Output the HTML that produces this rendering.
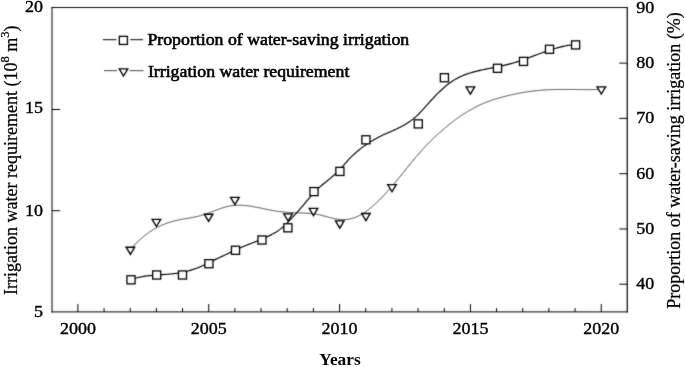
<!DOCTYPE html>
<html><head><meta charset="utf-8"><style>
html,body{margin:0;padding:0;background:#fff;}
body{width:685px;height:367px;overflow:hidden;}
svg{display:block;will-change:transform;}
text{font-family:"Liberation Serif",serif;fill:#000;}
</style></head><body>
<svg width="685" height="367" viewBox="0 0 685 367">
<defs><filter id="bl" filterUnits="userSpaceOnUse" x="0" y="0" width="685" height="367" color-interpolation-filters="sRGB"><feConvolveMatrix order="3" kernelMatrix="0.0169 0.0962 0.0169 0.0962 0.5476 0.0962 0.0169 0.0962 0.0169" edgeMode="duplicate"/></filter></defs>
<g filter="url(#bl)">
<rect width="685" height="367" fill="#fff"/>
<line x1="52.0" y1="7" x2="52.0" y2="312.4" stroke="#000" stroke-width="1.0"/>
<line x1="51.5" y1="7.5" x2="627.7" y2="7.5" stroke="#000" stroke-width="0.97"/>
<line x1="627.25" y1="7" x2="627.25" y2="312.4" stroke="#000" stroke-width="1.2"/>
<line x1="51.5" y1="311.9" x2="627.7" y2="311.9" stroke="#000" stroke-width="1.0"/>
<line x1="77.88" y1="311.9" x2="77.88" y2="304" stroke="#000" stroke-width="1.0"/>
<line x1="104.05" y1="311.9" x2="104.05" y2="308" stroke="#000" stroke-width="1.0"/>
<line x1="130.22" y1="311.9" x2="130.22" y2="308" stroke="#000" stroke-width="1.0"/>
<line x1="156.39" y1="311.9" x2="156.39" y2="308" stroke="#000" stroke-width="1.0"/>
<line x1="182.56" y1="311.9" x2="182.56" y2="308" stroke="#000" stroke-width="1.0"/>
<line x1="208.72" y1="311.9" x2="208.72" y2="304" stroke="#000" stroke-width="1.0"/>
<line x1="234.89" y1="311.9" x2="234.89" y2="308" stroke="#000" stroke-width="1.0"/>
<line x1="261.06" y1="311.9" x2="261.06" y2="308" stroke="#000" stroke-width="1.0"/>
<line x1="287.23" y1="311.9" x2="287.23" y2="308" stroke="#000" stroke-width="1.0"/>
<line x1="313.40" y1="311.9" x2="313.40" y2="308" stroke="#000" stroke-width="1.0"/>
<line x1="339.57" y1="311.9" x2="339.57" y2="304" stroke="#000" stroke-width="1.0"/>
<line x1="365.74" y1="311.9" x2="365.74" y2="308" stroke="#000" stroke-width="1.0"/>
<line x1="391.91" y1="311.9" x2="391.91" y2="308" stroke="#000" stroke-width="1.0"/>
<line x1="418.08" y1="311.9" x2="418.08" y2="308" stroke="#000" stroke-width="1.0"/>
<line x1="444.25" y1="311.9" x2="444.25" y2="308" stroke="#000" stroke-width="1.0"/>
<line x1="470.42" y1="311.9" x2="470.42" y2="304" stroke="#000" stroke-width="1.0"/>
<line x1="496.58" y1="311.9" x2="496.58" y2="308" stroke="#000" stroke-width="1.0"/>
<line x1="522.75" y1="311.9" x2="522.75" y2="308" stroke="#000" stroke-width="1.0"/>
<line x1="548.92" y1="311.9" x2="548.92" y2="308" stroke="#000" stroke-width="1.0"/>
<line x1="575.09" y1="311.9" x2="575.09" y2="308" stroke="#000" stroke-width="1.0"/>
<line x1="601.26" y1="311.9" x2="601.26" y2="304" stroke="#000" stroke-width="1.0"/>
<line x1="52" y1="210.70" x2="60.2" y2="210.70" stroke="#000" stroke-width="1.0"/>
<line x1="52" y1="109.50" x2="60.2" y2="109.50" stroke="#000" stroke-width="1.0"/>
<line x1="627.2" y1="284.23" x2="619.3" y2="284.23" stroke="#000" stroke-width="1.0"/>
<line x1="627.2" y1="228.96" x2="619.3" y2="228.96" stroke="#000" stroke-width="1.0"/>
<line x1="627.2" y1="173.69" x2="619.3" y2="173.69" stroke="#000" stroke-width="1.0"/>
<line x1="627.2" y1="118.42" x2="619.3" y2="118.42" stroke="#000" stroke-width="1.0"/>
<line x1="627.2" y1="63.15" x2="619.3" y2="63.15" stroke="#000" stroke-width="1.0"/>
<path d="M130.40 249.65 L131.40 248.48 L132.40 247.33 L133.40 246.22 L134.40 245.14 L135.40 244.08 L136.40 243.06 L137.40 242.06 L138.40 241.09 L139.40 240.15 L140.40 239.23 L141.40 238.34 L142.40 237.48 L143.40 236.64 L144.40 235.83 L145.40 235.04 L146.40 234.28 L147.40 233.54 L148.40 232.82 L149.40 232.13 L150.40 231.45 L151.40 230.80 L152.40 230.18 L153.40 229.57 L154.40 228.98 L155.40 228.42 L156.40 227.87 L157.40 227.35 L158.40 226.84 L159.40 226.35 L160.40 225.88 L161.40 225.43 L162.40 224.99 L163.40 224.57 L164.40 224.17 L165.40 223.78 L166.40 223.41 L167.40 223.06 L168.40 222.72 L169.40 222.39 L170.40 222.08 L171.40 221.78 L172.40 221.49 L173.40 221.22 L174.40 220.95 L175.40 220.70 L176.40 220.46 L177.40 220.23 L178.40 220.02 L179.40 219.81 L180.40 219.61 L181.40 219.41 L182.40 219.23 L183.40 219.04 L184.40 218.87 L185.40 218.69 L186.40 218.52 L187.40 218.34 L188.40 218.17 L189.40 218.00 L190.40 217.82 L191.40 217.64 L192.40 217.45 L193.40 217.26 L194.40 217.06 L195.40 216.86 L196.40 216.64 L197.40 216.42 L198.40 216.18 L199.40 215.93 L200.40 215.67 L201.40 215.39 L202.40 215.10 L203.40 214.79 L204.40 214.47 L205.40 214.13 L206.40 213.79 L207.40 213.43 L208.40 213.07 L209.40 212.70 L210.40 212.33 L211.40 211.95 L212.40 211.57 L213.40 211.19 L214.40 210.80 L215.40 210.42 L216.40 210.05 L217.40 209.68 L218.40 209.31 L219.40 208.95 L220.40 208.60 L221.40 208.26 L222.40 207.94 L223.40 207.62 L224.40 207.33 L225.40 207.04 L226.40 206.78 L227.40 206.53 L228.40 206.31 L229.40 206.10 L230.40 205.92 L231.40 205.77 L232.40 205.63 L233.40 205.52 L234.40 205.42 L235.40 205.35 L236.40 205.30 L237.40 205.26 L238.40 205.24 L239.40 205.24 L240.40 205.26 L241.40 205.29 L242.40 205.34 L243.40 205.40 L244.40 205.48 L245.40 205.57 L246.40 205.67 L247.40 205.78 L248.40 205.91 L249.40 206.05 L250.40 206.19 L251.40 206.34 L252.40 206.51 L253.40 206.68 L254.40 206.85 L255.40 207.04 L256.40 207.23 L257.40 207.42 L258.40 207.62 L259.40 207.82 L260.40 208.03 L261.40 208.23 L262.40 208.44 L263.40 208.65 L264.40 208.86 L265.40 209.07 L266.40 209.28 L267.40 209.48 L268.40 209.68 L269.40 209.88 L270.40 210.08 L271.40 210.27 L272.40 210.46 L273.40 210.64 L274.40 210.81 L275.40 210.97 L276.40 211.13 L277.40 211.28 L278.40 211.42 L279.40 211.55 L280.40 211.67 L281.40 211.78 L282.40 211.88 L283.40 211.98 L284.40 212.07 L285.40 212.15 L286.40 212.22 L287.40 212.29 L288.40 212.36 L289.40 212.42 L290.40 212.48 L291.40 212.53 L292.40 212.58 L293.40 212.63 L294.40 212.67 L295.40 212.72 L296.40 212.76 L297.40 212.80 L298.40 212.84 L299.40 212.88 L300.40 212.93 L301.40 212.97 L302.40 213.02 L303.40 213.06 L304.40 213.11 L305.40 213.17 L306.40 213.22 L307.40 213.29 L308.40 213.35 L309.40 213.43 L310.40 213.51 L311.40 213.60 L312.40 213.71 L313.40 213.82 L314.40 213.95 L315.40 214.09 L316.40 214.25 L317.40 214.43 L318.40 214.62 L319.40 214.83 L320.40 215.06 L321.40 215.30 L322.40 215.55 L323.40 215.81 L324.40 216.07 L325.40 216.34 L326.40 216.62 L327.40 216.89 L328.40 217.16 L329.40 217.43 L330.40 217.69 L331.40 217.94 L332.40 218.19 L333.40 218.42 L334.40 218.63 L335.40 218.83 L336.40 219.01 L337.40 219.17 L338.40 219.30 L339.40 219.41 L340.40 219.50 L341.40 219.56 L342.40 219.59 L343.40 219.60 L344.40 219.58 L345.40 219.53 L346.40 219.45 L347.40 219.34 L348.40 219.20 L349.40 219.03 L350.40 218.83 L351.40 218.60 L352.40 218.34 L353.40 218.04 L354.40 217.70 L355.40 217.34 L356.40 216.94 L357.40 216.50 L358.40 216.03 L359.40 215.52 L360.40 214.99 L361.40 214.42 L362.40 213.82 L363.40 213.20 L364.40 212.54 L365.40 211.86 L366.40 211.16 L367.40 210.42 L368.40 209.67 L369.40 208.89 L370.40 208.09 L371.40 207.27 L372.40 206.43 L373.40 205.57 L374.40 204.68 L375.40 203.78 L376.40 202.86 L377.40 201.92 L378.40 200.96 L379.40 199.98 L380.40 198.98 L381.40 197.97 L382.40 196.93 L383.40 195.88 L384.40 194.82 L385.40 193.74 L386.40 192.64 L387.40 191.53 L388.40 190.41 L389.40 189.27 L390.40 188.13 L391.40 186.97 L392.40 185.80 L393.40 184.62 L394.40 183.44 L395.40 182.24 L396.40 181.04 L397.40 179.83 L398.40 178.61 L399.40 177.39 L400.40 176.16 L401.40 174.93 L402.40 173.70 L403.40 172.46 L404.40 171.22 L405.40 169.98 L406.40 168.73 L407.40 167.49 L408.40 166.25 L409.40 165.00 L410.40 163.77 L411.40 162.53 L412.40 161.31 L413.40 160.09 L414.40 158.88 L415.40 157.69 L416.40 156.50 L417.40 155.33 L418.40 154.18 L419.40 153.03 L420.40 151.90 L421.40 150.79 L422.40 149.69 L423.40 148.60 L424.40 147.52 L425.40 146.46 L426.40 145.41 L427.40 144.37 L428.40 143.34 L429.40 142.33 L430.40 141.33 L431.40 140.34 L432.40 139.36 L433.40 138.39 L434.40 137.44 L435.40 136.49 L436.40 135.56 L437.40 134.63 L438.40 133.72 L439.40 132.82 L440.40 131.92 L441.40 131.04 L442.40 130.16 L443.40 129.30 L444.40 128.45 L445.40 127.60 L446.40 126.77 L447.40 125.95 L448.40 125.14 L449.40 124.34 L450.40 123.54 L451.40 122.76 L452.40 121.99 L453.40 121.23 L454.40 120.48 L455.40 119.74 L456.40 119.01 L457.40 118.30 L458.40 117.59 L459.40 116.89 L460.40 116.21 L461.40 115.53 L462.40 114.87 L463.40 114.21 L464.40 113.57 L465.40 112.94 L466.40 112.32 L467.40 111.71 L468.40 111.11 L469.40 110.52 L470.40 109.94 L471.40 109.37 L472.40 108.82 L473.40 108.27 L474.40 107.74 L475.40 107.22 L476.40 106.70 L477.40 106.20 L478.40 105.72 L479.40 105.24 L480.40 104.77 L481.40 104.32 L482.40 103.87 L483.40 103.44 L484.40 103.02 L485.40 102.61 L486.40 102.21 L487.40 101.82 L488.40 101.44 L489.40 101.07 L490.40 100.71 L491.40 100.36 L492.40 100.01 L493.40 99.68 L494.40 99.35 L495.40 99.04 L496.40 98.73 L497.40 98.42 L498.40 98.13 L499.40 97.84 L500.40 97.56 L501.40 97.28 L502.40 97.01 L503.40 96.75 L504.40 96.49 L505.40 96.24 L506.40 95.99 L507.40 95.75 L508.40 95.51 L509.40 95.27 L510.40 95.04 L511.40 94.82 L512.40 94.60 L513.40 94.38 L514.40 94.17 L515.40 93.96 L516.40 93.75 L517.40 93.55 L518.40 93.36 L519.40 93.17 L520.40 92.98 L521.40 92.80 L522.40 92.62 L523.40 92.45 L524.40 92.28 L525.40 92.12 L526.40 91.96 L527.40 91.81 L528.40 91.66 L529.40 91.51 L530.40 91.37 L531.40 91.24 L532.40 91.11 L533.40 90.99 L534.40 90.87 L535.40 90.76 L536.40 90.65 L537.40 90.55 L538.40 90.45 L539.40 90.36 L540.40 90.27 L541.40 90.19 L542.40 90.11 L543.40 90.04 L544.40 89.97 L545.40 89.91 L546.40 89.85 L547.40 89.80 L548.40 89.75 L549.40 89.71 L550.40 89.67 L551.40 89.63 L552.40 89.60 L553.40 89.57 L554.40 89.54 L555.40 89.52 L556.40 89.50 L557.40 89.48 L558.40 89.47 L559.40 89.46 L560.40 89.45 L561.40 89.44 L562.40 89.44 L563.40 89.44 L564.40 89.44 L565.40 89.44 L566.40 89.44 L567.40 89.45 L568.40 89.45 L569.40 89.46 L570.40 89.47 L571.40 89.48 L572.40 89.49 L573.40 89.50 L574.40 89.51 L575.40 89.52 L576.40 89.53 L577.40 89.55 L578.40 89.56 L579.40 89.57 L580.40 89.58 L581.40 89.59 L582.40 89.60 L583.40 89.61 L584.40 89.61 L585.40 89.62 L586.40 89.62 L587.40 89.63 L588.40 89.63 L589.40 89.63 L590.40 89.63 L591.40 89.62 L592.40 89.62 L593.40 89.61 L594.40 89.60 L595.40 89.58 L596.40 89.57 L597.40 89.55 L598.40 89.53 L599.40 89.50 L600.40 89.47 L601.30 89.44" fill="none" stroke="#444" stroke-width="1.00"/>
<path d="M126.10 247.20 H134.70 L130.40 254.40 Z" fill="#fff" stroke="#000" stroke-width="1.35" stroke-linejoin="miter"/>
<path d="M152.10 219.35 H160.70 L156.40 226.55 Z" fill="#fff" stroke="#000" stroke-width="1.35" stroke-linejoin="miter"/>
<path d="M204.30 214.20 H212.90 L208.60 221.40 Z" fill="#fff" stroke="#000" stroke-width="1.35" stroke-linejoin="miter"/>
<path d="M230.60 197.40 H239.20 L234.90 204.60 Z" fill="#fff" stroke="#000" stroke-width="1.35" stroke-linejoin="miter"/>
<path d="M283.80 213.80 H292.40 L288.10 221.00 Z" fill="#fff" stroke="#000" stroke-width="1.35" stroke-linejoin="miter"/>
<path d="M309.20 208.40 H317.80 L313.50 215.60 Z" fill="#fff" stroke="#000" stroke-width="1.35" stroke-linejoin="miter"/>
<path d="M335.50 220.90 H344.10 L339.80 228.10 Z" fill="#fff" stroke="#000" stroke-width="1.35" stroke-linejoin="miter"/>
<path d="M361.60 213.50 H370.20 L365.90 220.70 Z" fill="#fff" stroke="#000" stroke-width="1.35" stroke-linejoin="miter"/>
<path d="M387.70 184.55 H396.30 L392.00 191.75 Z" fill="#fff" stroke="#000" stroke-width="1.35" stroke-linejoin="miter"/>
<path d="M466.10 86.90 H474.70 L470.40 94.10 Z" fill="#fff" stroke="#000" stroke-width="1.35" stroke-linejoin="miter"/>
<path d="M597.00 86.80 H605.60 L601.30 94.00 Z" fill="#fff" stroke="#000" stroke-width="1.35" stroke-linejoin="miter"/>
<path d="M131.00 279.62 L132.00 279.27 L133.00 278.93 L134.00 278.62 L135.00 278.32 L136.00 278.04 L137.00 277.78 L138.00 277.53 L139.00 277.30 L140.00 277.08 L141.00 276.88 L142.00 276.69 L143.00 276.51 L144.00 276.34 L145.00 276.19 L146.00 276.04 L147.00 275.91 L148.00 275.78 L149.00 275.66 L150.00 275.56 L151.00 275.45 L152.00 275.36 L153.00 275.27 L154.00 275.19 L155.00 275.11 L156.00 275.03 L157.00 274.96 L158.00 274.89 L159.00 274.83 L160.00 274.76 L161.00 274.70 L162.00 274.64 L163.00 274.57 L164.00 274.51 L165.00 274.44 L166.00 274.37 L167.00 274.29 L168.00 274.22 L169.00 274.14 L170.00 274.05 L171.00 273.96 L172.00 273.86 L173.00 273.75 L174.00 273.64 L175.00 273.52 L176.00 273.39 L177.00 273.25 L178.00 273.10 L179.00 272.94 L180.00 272.77 L181.00 272.58 L182.00 272.39 L183.00 272.18 L184.00 271.97 L185.00 271.74 L186.00 271.50 L187.00 271.25 L188.00 270.98 L189.00 270.71 L190.00 270.42 L191.00 270.12 L192.00 269.81 L193.00 269.49 L194.00 269.15 L195.00 268.81 L196.00 268.45 L197.00 268.08 L198.00 267.69 L199.00 267.29 L200.00 266.88 L201.00 266.46 L202.00 266.03 L203.00 265.58 L204.00 265.12 L205.00 264.64 L206.00 264.16 L207.00 263.67 L208.00 263.17 L209.00 262.66 L210.00 262.15 L211.00 261.64 L212.00 261.13 L213.00 260.62 L214.00 260.12 L215.00 259.62 L216.00 259.13 L217.00 258.65 L218.00 258.17 L219.00 257.71 L220.00 257.27 L221.00 256.83 L222.00 256.40 L223.00 255.96 L224.00 255.51 L225.00 255.04 L226.00 254.56 L227.00 254.05 L228.00 253.54 L229.00 253.03 L230.00 252.51 L231.00 252.01 L232.00 251.51 L233.00 251.02 L234.00 250.55 L235.00 250.08 L236.00 249.62 L237.00 249.17 L238.00 248.73 L239.00 248.29 L240.00 247.87 L241.00 247.45 L242.00 247.03 L243.00 246.62 L244.00 246.21 L245.00 245.81 L246.00 245.41 L247.00 245.02 L248.00 244.62 L249.00 244.23 L250.00 243.84 L251.00 243.45 L252.00 243.06 L253.00 242.67 L254.00 242.28 L255.00 241.88 L256.00 241.49 L257.00 241.09 L258.00 240.69 L259.00 240.28 L260.00 239.87 L261.00 239.45 L262.00 239.03 L263.00 238.60 L264.00 238.17 L265.00 237.72 L266.00 237.27 L267.00 236.81 L268.00 236.34 L269.00 235.86 L270.00 235.38 L271.00 234.87 L272.00 234.36 L273.00 233.84 L274.00 233.29 L275.00 232.72 L276.00 232.13 L277.00 231.51 L278.00 230.85 L279.00 230.15 L280.00 229.41 L281.00 228.63 L282.00 227.80 L283.00 226.92 L284.00 226.00 L285.00 225.04 L286.00 224.06 L287.00 223.06 L288.00 222.03 L289.00 221.00 L290.00 219.96 L291.00 218.91 L292.00 217.85 L293.00 216.78 L294.00 215.70 L295.00 214.61 L296.00 213.52 L297.00 212.41 L298.00 211.29 L299.00 210.15 L300.00 209.01 L301.00 207.85 L302.00 206.69 L303.00 205.51 L304.00 204.32 L305.00 203.12 L306.00 201.92 L307.00 200.71 L308.00 199.51 L309.00 198.32 L310.00 197.14 L311.00 195.97 L312.00 194.83 L313.00 193.70 L314.00 192.59 L315.00 191.52 L316.00 190.48 L317.00 189.47 L318.00 188.50 L319.00 187.57 L320.00 186.70 L321.00 185.86 L322.00 185.06 L323.00 184.27 L324.00 183.48 L325.00 182.68 L326.00 181.87 L327.00 181.06 L328.00 180.24 L329.00 179.41 L330.00 178.57 L331.00 177.71 L332.00 176.84 L333.00 175.96 L334.00 175.06 L335.00 174.15 L336.00 173.22 L337.00 172.26 L338.00 171.29 L339.00 170.29 L340.00 169.27 L341.00 168.22 L342.00 167.14 L343.00 166.03 L344.00 164.90 L345.00 163.74 L346.00 162.58 L347.00 161.43 L348.00 160.30 L349.00 159.21 L350.00 158.16 L351.00 157.14 L352.00 156.15 L353.00 155.19 L354.00 154.26 L355.00 153.36 L356.00 152.48 L357.00 151.62 L358.00 150.77 L359.00 149.95 L360.00 149.15 L361.00 148.37 L362.00 147.60 L363.00 146.86 L364.00 146.13 L365.00 145.41 L366.00 144.72 L367.00 144.04 L368.00 143.37 L369.00 142.72 L370.00 142.09 L371.00 141.47 L372.00 140.87 L373.00 140.28 L374.00 139.70 L375.00 139.14 L376.00 138.58 L377.00 138.05 L378.00 137.52 L379.00 137.00 L380.00 136.50 L381.00 136.01 L382.00 135.52 L383.00 135.05 L384.00 134.58 L385.00 134.13 L386.00 133.68 L387.00 133.23 L388.00 132.79 L389.00 132.35 L390.00 131.91 L391.00 131.47 L392.00 131.03 L393.00 130.58 L394.00 130.13 L395.00 129.68 L396.00 129.22 L397.00 128.75 L398.00 128.27 L399.00 127.78 L400.00 127.28 L401.00 126.77 L402.00 126.24 L403.00 125.70 L404.00 125.14 L405.00 124.56 L406.00 123.96 L407.00 123.34 L408.00 122.70 L409.00 122.03 L410.00 121.34 L411.00 120.63 L412.00 119.88 L413.00 119.11 L414.00 118.30 L415.00 117.46 L416.00 116.59 L417.00 115.68 L418.00 114.72 L419.00 113.73 L420.00 112.69 L421.00 111.62 L422.00 110.53 L423.00 109.42 L424.00 108.30 L425.00 107.17 L426.00 106.05 L427.00 104.93 L428.00 103.81 L429.00 102.70 L430.00 101.59 L431.00 100.49 L432.00 99.40 L433.00 98.33 L434.00 97.26 L435.00 96.21 L436.00 95.18 L437.00 94.16 L438.00 93.16 L439.00 92.18 L440.00 91.22 L441.00 90.27 L442.00 89.35 L443.00 88.45 L444.00 87.57 L445.00 86.71 L446.00 85.87 L447.00 85.07 L448.00 84.28 L449.00 83.52 L450.00 82.79 L451.00 82.09 L452.00 81.41 L453.00 80.76 L454.00 80.13 L455.00 79.53 L456.00 78.96 L457.00 78.40 L458.00 77.87 L459.00 77.36 L460.00 76.87 L461.00 76.41 L462.00 75.96 L463.00 75.53 L464.00 75.12 L465.00 74.72 L466.00 74.34 L467.00 73.98 L468.00 73.64 L469.00 73.30 L470.00 72.98 L471.00 72.68 L472.00 72.38 L473.00 72.10 L474.00 71.83 L475.00 71.57 L476.00 71.31 L477.00 71.07 L478.00 70.83 L479.00 70.60 L480.00 70.38 L481.00 70.16 L482.00 69.95 L483.00 69.74 L484.00 69.53 L485.00 69.33 L486.00 69.13 L487.00 68.93 L488.00 68.73 L489.00 68.53 L490.00 68.33 L491.00 68.13 L492.00 67.93 L493.00 67.74 L494.00 67.54 L495.00 67.33 L496.00 67.13 L497.00 66.92 L498.00 66.72 L499.00 66.50 L500.00 66.29 L501.00 66.07 L502.00 65.85 L503.00 65.62 L504.00 65.39 L505.00 65.16 L506.00 64.92 L507.00 64.67 L508.00 64.42 L509.00 64.16 L510.00 63.89 L511.00 63.62 L512.00 63.34 L513.00 63.05 L514.00 62.76 L515.00 62.45 L516.00 62.14 L517.00 61.83 L518.00 61.50 L519.00 61.18 L520.00 60.84 L521.00 60.50 L522.00 60.16 L523.00 59.81 L524.00 59.46 L525.00 59.10 L526.00 58.74 L527.00 58.38 L528.00 58.01 L529.00 57.65 L530.00 57.28 L531.00 56.91 L532.00 56.53 L533.00 56.16 L534.00 55.79 L535.00 55.41 L536.00 55.04 L537.00 54.67 L538.00 54.30 L539.00 53.93 L540.00 53.56 L541.00 53.19 L542.00 52.83 L543.00 52.47 L544.00 52.11 L545.00 51.76 L546.00 51.41 L547.00 51.06 L548.00 50.72 L549.00 50.38 L550.00 50.05 L551.00 49.72 L552.00 49.40 L553.00 49.09 L554.00 48.79 L555.00 48.49 L556.00 48.19 L557.00 47.91 L558.00 47.64 L559.00 47.37 L560.00 47.11 L561.00 46.86 L562.00 46.62 L563.00 46.39 L564.00 46.17 L565.00 45.97 L566.00 45.77 L567.00 45.58 L568.00 45.41 L569.00 45.25 L570.00 45.10 L571.00 44.97 L572.00 44.84 L573.00 44.73 L574.00 44.64 L575.00 44.56 L575.60 44.52" fill="none" stroke="#000" stroke-width="1.15"/>
<rect x="126.95" y="275.75" width="8.10" height="8.10" fill="#fff" stroke="#000" stroke-width="1.30"/>
<rect x="152.65" y="270.95" width="8.10" height="8.10" fill="#fff" stroke="#000" stroke-width="1.30"/>
<rect x="178.45" y="270.95" width="8.10" height="8.10" fill="#fff" stroke="#000" stroke-width="1.30"/>
<rect x="204.85" y="259.65" width="8.10" height="8.10" fill="#fff" stroke="#000" stroke-width="1.30"/>
<rect x="231.45" y="246.25" width="8.10" height="8.10" fill="#fff" stroke="#000" stroke-width="1.30"/>
<rect x="257.95" y="235.95" width="8.10" height="8.10" fill="#fff" stroke="#000" stroke-width="1.30"/>
<rect x="283.85" y="223.75" width="8.10" height="8.10" fill="#fff" stroke="#000" stroke-width="1.30"/>
<rect x="309.95" y="187.55" width="8.10" height="8.10" fill="#fff" stroke="#000" stroke-width="1.30"/>
<rect x="335.85" y="167.35" width="8.10" height="8.10" fill="#fff" stroke="#000" stroke-width="1.30"/>
<rect x="361.85" y="135.75" width="8.10" height="8.10" fill="#fff" stroke="#000" stroke-width="1.30"/>
<rect x="414.25" y="119.85" width="8.10" height="8.10" fill="#fff" stroke="#000" stroke-width="1.30"/>
<rect x="440.35" y="73.65" width="8.10" height="8.10" fill="#fff" stroke="#000" stroke-width="1.30"/>
<rect x="493.45" y="64.25" width="8.10" height="8.10" fill="#fff" stroke="#000" stroke-width="1.30"/>
<rect x="519.45" y="57.35" width="8.10" height="8.10" fill="#fff" stroke="#000" stroke-width="1.30"/>
<rect x="545.45" y="45.25" width="8.10" height="8.10" fill="#fff" stroke="#000" stroke-width="1.30"/>
<rect x="571.55" y="40.85" width="8.10" height="8.10" fill="#fff" stroke="#000" stroke-width="1.30"/>
<path d="M103 39.7 H116.3 M130.3 39.7 H143" stroke="#000" stroke-width="1.0"/>
<rect x="119.35" y="36.35" width="8.10" height="8.10" fill="#fff" stroke="#000" stroke-width="1.30"/>
<path d="M104 70.7 H117 M129.6 70.7 H143.5" stroke="#444" stroke-width="1.0"/>
<path d="M119.20 68.80 H127.80 L123.50 76.00 Z" fill="#fff" stroke="#000" stroke-width="1.35" stroke-linejoin="miter"/>
</g>
<text transform="translate(147.40,45.30) scale(1,0.970)" text-anchor="start" font-size="17.8" stroke="#000" stroke-width="0.60" >Proportion of water-saving irrigation</text>
<text transform="translate(147.90,76.50) scale(1,0.970)" text-anchor="start" font-size="17.8" stroke="#000" stroke-width="0.60" >Irrigation water requirement</text>
<text transform="translate(43.10,316.90) scale(1,0.950)" text-anchor="end" font-size="18" stroke="#000" stroke-width="0.40" >5</text>
<text transform="translate(43.10,215.50) scale(1,0.950)" text-anchor="end" font-size="18" stroke="#000" stroke-width="0.40" >10</text>
<text transform="translate(43.10,113.30) scale(1,0.950)" text-anchor="end" font-size="18" stroke="#000" stroke-width="0.40" >15</text>
<text transform="translate(43.10,11.90) scale(1,0.950)" text-anchor="end" font-size="18" stroke="#000" stroke-width="0.40" >20</text>
<text transform="translate(636.20,289.23) scale(1,0.950)" text-anchor="start" font-size="18" stroke="#000" stroke-width="0.40" >40</text>
<text transform="translate(636.20,233.76) scale(1,0.950)" text-anchor="start" font-size="18" stroke="#000" stroke-width="0.40" >50</text>
<text transform="translate(636.20,178.99) scale(1,0.950)" text-anchor="start" font-size="18" stroke="#000" stroke-width="0.40" >60</text>
<text transform="translate(636.20,123.12) scale(1,0.950)" text-anchor="start" font-size="18" stroke="#000" stroke-width="0.40" >70</text>
<text transform="translate(636.20,68.45) scale(1,0.950)" text-anchor="start" font-size="18" stroke="#000" stroke-width="0.40" >80</text>
<text transform="translate(636.20,12.78) scale(1,0.950)" text-anchor="start" font-size="18" stroke="#000" stroke-width="0.40" >90</text>
<text transform="translate(77.88,334.00) scale(1,0.950)" text-anchor="middle" font-size="18" stroke="#000" stroke-width="0.40" >2000</text>
<text transform="translate(208.72,334.00) scale(1,0.950)" text-anchor="middle" font-size="18" stroke="#000" stroke-width="0.40" >2005</text>
<text transform="translate(339.57,334.00) scale(1,0.950)" text-anchor="middle" font-size="18" stroke="#000" stroke-width="0.40" >2010</text>
<text transform="translate(470.42,334.00) scale(1,0.950)" text-anchor="middle" font-size="18" stroke="#000" stroke-width="0.40" >2015</text>
<text transform="translate(601.26,334.00) scale(1,0.950)" text-anchor="middle" font-size="18" stroke="#000" stroke-width="0.40" >2020</text>
<text transform="translate(340.00,365.10)" text-anchor="middle" font-size="17.3" font-weight="bold">Years</text>
<text transform="translate(17.00,160.20) rotate(-90)" text-anchor="middle" font-size="18" stroke="#000" stroke-width="0.25" >Irrigation water requirement (10<tspan font-size="12.5" dy="-8.5">8</tspan><tspan dy="8.5"> m</tspan><tspan font-size="12.5" dy="-8.5">3</tspan><tspan dy="8.5">)</tspan></text>
<text transform="translate(680.00,160.50) rotate(-90)" text-anchor="middle" font-size="18" stroke="#000" stroke-width="0.25" >Proportion of water-saving irrigation (%)</text>
</svg>
</body></html>
